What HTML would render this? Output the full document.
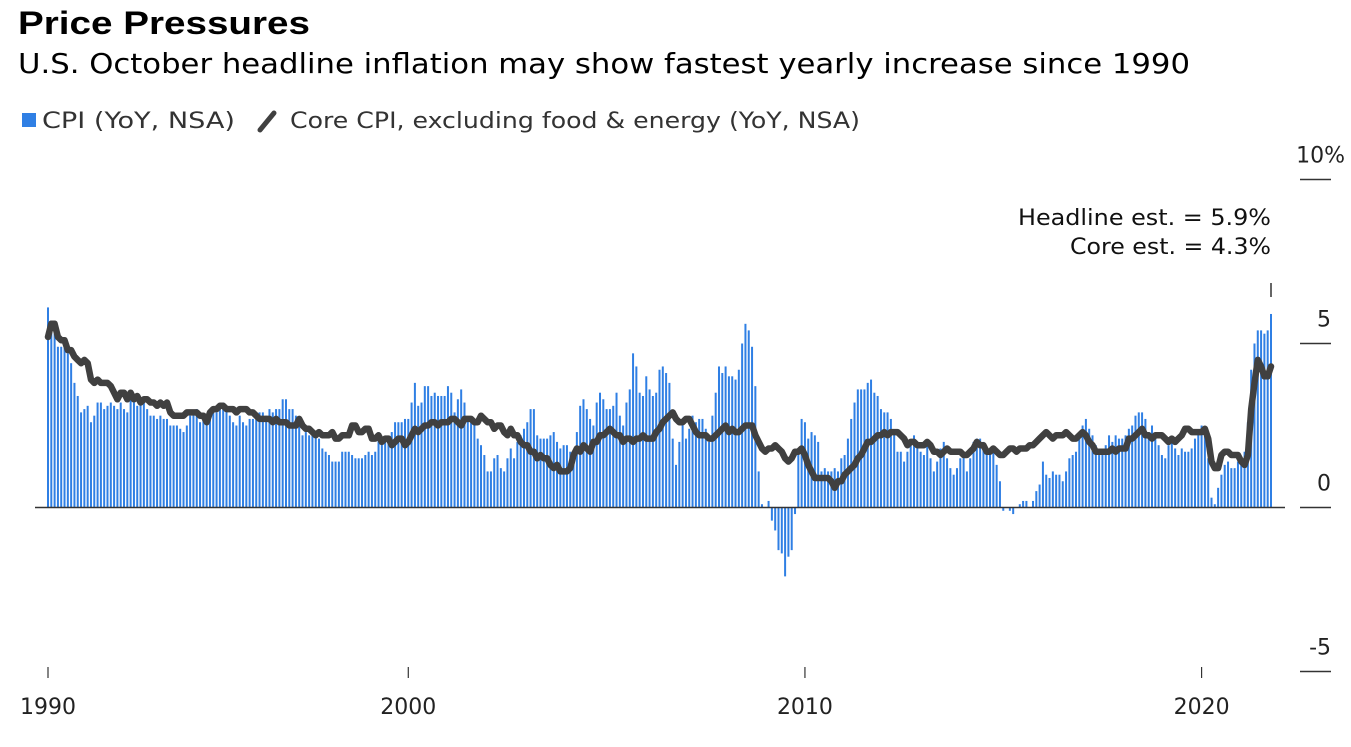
<!DOCTYPE html>
<html><head><meta charset="utf-8"><style>
body{margin:0;background:#fff;width:1351px;height:742px;overflow:hidden;font-family:"Liberation Sans","DejaVu Sans",sans-serif;}
svg text{font-family:"DejaVu Sans","Liberation Sans",sans-serif;}
</style></head><body>
<svg id="chart" width="1351" height="742" xmlns="http://www.w3.org/2000/svg">
<text x="18" y="34" font-size="32" font-weight="bold" fill="#000" textLength="292" lengthAdjust="spacingAndGlyphs" style="font-family:'Liberation Sans',sans-serif">Price Pressures</text>
<text x="18" y="73" font-size="28" fill="#000" textLength="1172" lengthAdjust="spacingAndGlyphs">U.S. October headline inflation may show fastest yearly increase since 1990</text>
<g>
<rect x="22" y="113" width="14" height="14" fill="#2f7fe4"/>
<text x="42" y="128" font-size="22" fill="#333" textLength="193" lengthAdjust="spacingAndGlyphs">CPI (YoY, NSA)</text>
<line x1="260" y1="130" x2="274" y2="113" stroke="#404040" stroke-width="5" stroke-linecap="round"/>
<text x="290" y="128" font-size="22" fill="#333" textLength="570" lengthAdjust="spacingAndGlyphs">Core CPI, excluding food &amp; energy (YoY, NSA)</text>
</g>
<g id="yaxis"></g>
<g id="bars"></g>
<line x1="35" y1="507.5" x2="1285" y2="507.5" stroke="#333" stroke-width="1.5"/>
<path id="core" fill="none" stroke="#404040" stroke-width="6.5" stroke-linejoin="round" stroke-linecap="round"/>
<g id="xaxis"></g>
<text x="1271" y="225" font-size="22" fill="#111" text-anchor="end" textLength="253" lengthAdjust="spacingAndGlyphs">Headline est. = 5.9%</text>
<text x="1271" y="254" font-size="22" fill="#111" text-anchor="end" textLength="201" lengthAdjust="spacingAndGlyphs">Core est. = 4.3%</text>
<line x1="1271" y1="283" x2="1271" y2="297" stroke="#333" stroke-width="1.5"/>
</svg>
<script>
// Monthly, Dec 1990 .. Oct 2021 (last = estimate)
const cpi = [6.1,
5.7,5.3,4.9,4.9,5.0,4.7,4.4,3.8,3.4,2.9,3.0,3.1,
2.6,2.8,3.2,3.2,3.0,3.1,3.2,3.1,3.0,3.2,3.0,2.9,
3.3,3.2,3.1,3.2,3.2,3.0,2.8,2.8,2.7,2.8,2.7,2.7,
2.5,2.5,2.5,2.4,2.3,2.5,2.8,2.9,3.0,2.6,2.7,2.7,
2.8,2.9,2.9,3.1,3.2,3.0,2.8,2.6,2.5,2.8,2.6,2.5,
2.7,2.7,2.8,2.9,2.9,2.8,3.0,2.9,3.0,3.0,3.3,3.3,
3.0,3.0,2.8,2.5,2.2,2.3,2.2,2.2,2.2,2.1,1.8,1.7,
1.6,1.4,1.4,1.4,1.7,1.7,1.7,1.6,1.5,1.5,1.5,1.6,
1.7,1.6,1.7,2.3,2.1,2.0,2.1,2.3,2.6,2.6,2.6,2.7,
2.7,3.2,3.8,3.1,3.2,3.7,3.7,3.4,3.5,3.4,3.4,3.4,
3.7,3.5,2.9,3.3,3.6,3.2,2.7,2.7,2.6,2.1,1.9,1.6,
1.1,1.1,1.5,1.6,1.2,1.1,1.5,1.8,1.5,2.0,2.2,2.4,
2.6,3.0,3.0,2.2,2.1,2.1,2.1,2.2,2.3,2.0,1.8,1.9,
1.9,1.7,1.7,2.3,3.1,3.3,3.0,2.7,2.5,3.2,3.5,3.3,
3.0,3.0,3.1,3.5,2.8,2.5,3.2,3.6,4.7,4.3,3.5,3.4,
4.0,3.6,3.4,3.5,4.2,4.3,4.1,3.8,2.1,1.3,2.0,2.5,
2.1,2.4,2.8,2.6,2.7,2.7,2.4,2.0,2.8,3.5,4.3,4.1,
4.3,4.0,4.0,3.9,4.2,5.0,5.6,5.4,4.9,3.7,1.1,0.1,
0.0,0.2,-0.4,-0.7,-1.3,-1.4,-2.1,-1.5,-1.3,-0.2,1.8,2.7,
2.6,2.1,2.3,2.2,2.0,1.1,1.2,1.1,1.1,1.2,1.1,1.5,
1.6,2.1,2.7,3.2,3.6,3.6,3.6,3.8,3.9,3.5,3.4,3.0,
2.9,2.9,2.7,2.3,1.7,1.7,1.4,1.7,2.0,2.2,1.8,1.7,
1.6,2.0,1.5,1.1,1.4,1.8,2.0,1.5,1.2,1.0,1.2,1.5,
1.6,1.1,1.5,2.0,2.1,2.1,2.0,1.7,1.7,1.7,1.3,0.8,
-0.1,0.0,-0.1,-0.2,0.0,0.1,0.2,0.2,0.0,0.2,0.5,0.7,
1.4,1.0,0.9,1.1,1.0,1.0,0.8,1.1,1.5,1.6,1.7,2.1,
2.5,2.7,2.4,2.2,1.9,1.6,1.7,1.9,2.2,2.0,2.2,2.1,
2.1,2.2,2.4,2.5,2.8,2.9,2.9,2.7,2.3,2.5,2.2,1.9,
1.6,1.5,1.9,2.0,1.8,1.6,1.8,1.7,1.7,1.8,2.1,2.3,
2.5,2.3,1.5,0.3,0.1,0.6,1.0,1.3,1.4,1.2,1.2,1.4,
1.4,1.7,2.6,4.2,5.0,5.4,5.4,5.3,5.4,5.9];
const core = [5.2,
5.6,5.6,5.2,5.1,5.1,4.8,4.8,4.6,4.5,4.4,4.5,4.4,
3.9,3.8,3.9,3.8,3.8,3.8,3.7,3.5,3.3,3.5,3.5,3.3,
3.5,3.3,3.4,3.2,3.3,3.3,3.2,3.2,3.1,3.2,3.1,3.2,
2.9,2.8,2.8,2.8,2.8,2.9,2.9,2.9,2.9,2.8,2.8,2.6,
2.9,3.0,3.0,3.1,3.1,3.0,3.0,3.0,2.9,3.0,3.0,3.0,
2.9,2.9,2.8,2.7,2.7,2.7,2.7,2.6,2.7,2.6,2.6,2.6,
2.5,2.5,2.5,2.7,2.5,2.4,2.4,2.3,2.2,2.3,2.2,2.2,
2.2,2.3,2.1,2.1,2.2,2.2,2.2,2.5,2.5,2.3,2.3,2.4,
2.4,2.1,2.1,2.2,2.0,2.1,2.1,1.9,2.0,2.1,2.1,1.9,
2.0,2.2,2.4,2.3,2.4,2.5,2.5,2.6,2.6,2.5,2.6,2.6,
2.6,2.7,2.7,2.6,2.5,2.7,2.7,2.7,2.6,2.6,2.8,2.7,
2.6,2.6,2.4,2.5,2.5,2.3,2.2,2.4,2.2,2.2,2.0,1.9,
1.9,1.7,1.7,1.5,1.6,1.5,1.5,1.3,1.2,1.3,1.1,1.1,
1.1,1.2,1.6,1.8,1.7,1.9,1.8,1.7,2.0,2.0,2.2,2.2,
2.3,2.4,2.3,2.2,2.2,2.0,2.1,2.1,2.0,2.1,2.1,2.2,
2.1,2.1,2.1,2.3,2.4,2.6,2.7,2.8,2.9,2.7,2.6,2.6,
2.7,2.7,2.5,2.3,2.2,2.2,2.2,2.1,2.1,2.2,2.3,2.4,
2.5,2.3,2.4,2.3,2.3,2.4,2.5,2.5,2.5,2.2,2.0,1.8,
1.7,1.8,1.8,1.9,1.8,1.7,1.5,1.4,1.5,1.7,1.7,1.8,
1.6,1.3,1.1,0.9,0.9,0.9,0.9,0.9,0.8,0.6,0.8,0.8,
1.0,1.1,1.2,1.3,1.5,1.6,1.8,2.0,2.0,2.1,2.2,2.2,
2.3,2.2,2.3,2.3,2.3,2.2,2.1,1.9,2.0,2.0,1.9,1.9,
1.9,2.0,1.9,1.7,1.7,1.6,1.7,1.8,1.7,1.7,1.7,1.7,
1.6,1.6,1.7,1.8,2.0,1.9,1.9,1.7,1.7,1.8,1.7,1.6,
1.6,1.7,1.8,1.8,1.7,1.8,1.8,1.8,1.9,1.9,2.0,2.1,
2.2,2.3,2.2,2.1,2.2,2.2,2.2,2.3,2.2,2.1,2.1,2.2,
2.3,2.2,2.0,1.9,1.7,1.7,1.7,1.7,1.7,1.8,1.7,1.8,
1.8,1.8,2.1,2.1,2.2,2.3,2.4,2.2,2.2,2.1,2.2,2.2,
2.2,2.1,2.0,2.1,2.0,2.1,2.2,2.4,2.4,2.3,2.3,2.3,
2.3,2.4,2.1,1.4,1.2,1.2,1.6,1.7,1.7,1.6,1.6,1.6,
1.4,1.3,1.6,3.0,3.8,4.5,4.3,4.0,4.0,4.3];
const yTicks = [10,5,0,-5];
const yTickLabels = ["10%","5","0","-5"];
const xTickIndex = [0,109,229,349];
const xTickLabels = ["1990","2000","2010","2020"];

const NS="http://www.w3.org/2000/svg";
const x0=48, x1=1271, n=cpi.length;
const xs = i => x0 + i*(x1-x0)/(n-1);
const ys = v => 507.5 - v*32.8;

const ya=document.getElementById('yaxis');
yTicks.forEach((t,k)=>{
  const l=document.createElementNS(NS,'line');
  
  
  l.setAttribute('x1',1300);l.setAttribute('x2',1331);
  l.setAttribute('y1',ys(t));l.setAttribute('y2',ys(t));
  l.setAttribute('stroke','#333');l.setAttribute('stroke-width','1.5');
  ya.appendChild(l);
  const tx=document.createElementNS(NS,'text');
  
  
  tx.setAttribute('x',t===10?1345:1331);tx.setAttribute('y',ys(t)-17);
  tx.setAttribute('text-anchor','end');tx.setAttribute('font-size','22');tx.setAttribute('fill','#222');
  tx.textContent=yTickLabels[k];
  ya.appendChild(tx);
});

const bg=document.getElementById('bars');
cpi.forEach((v,i)=>{
  const r=document.createElementNS(NS,'rect');
  
  
  const y=Math.min(ys(v),ys(0));
  r.setAttribute('x',xs(i)-1);r.setAttribute('width',2);
  r.setAttribute('y',y);r.setAttribute('height',Math.abs(ys(v)-ys(0)));
  r.setAttribute('fill','#2f7fe4');
  bg.appendChild(r);
});

document.getElementById('core').setAttribute('d',core.map((v,i)=>(i?'L':'M')+xs(i).toFixed(1)+','+ys(v).toFixed(1)).join(''));

const xa=document.getElementById('xaxis');
xTickIndex.forEach((idx,k)=>{
  const l=document.createElementNS(NS,'line');
  
  
  l.setAttribute('x1',xs(idx));l.setAttribute('x2',xs(idx));
  l.setAttribute('y1',667);l.setAttribute('y2',678);
  l.setAttribute('stroke','#333');l.setAttribute('stroke-width','1.2');
  xa.appendChild(l);
  const tx=document.createElementNS(NS,'text');
  
  
  tx.setAttribute('x',xs(idx));tx.setAttribute('y',714);
  tx.setAttribute('text-anchor','middle');tx.setAttribute('font-size','22');tx.setAttribute('fill','#222');
  tx.textContent=xTickLabels[k];
  xa.appendChild(tx);
});
</script>
</body></html>
